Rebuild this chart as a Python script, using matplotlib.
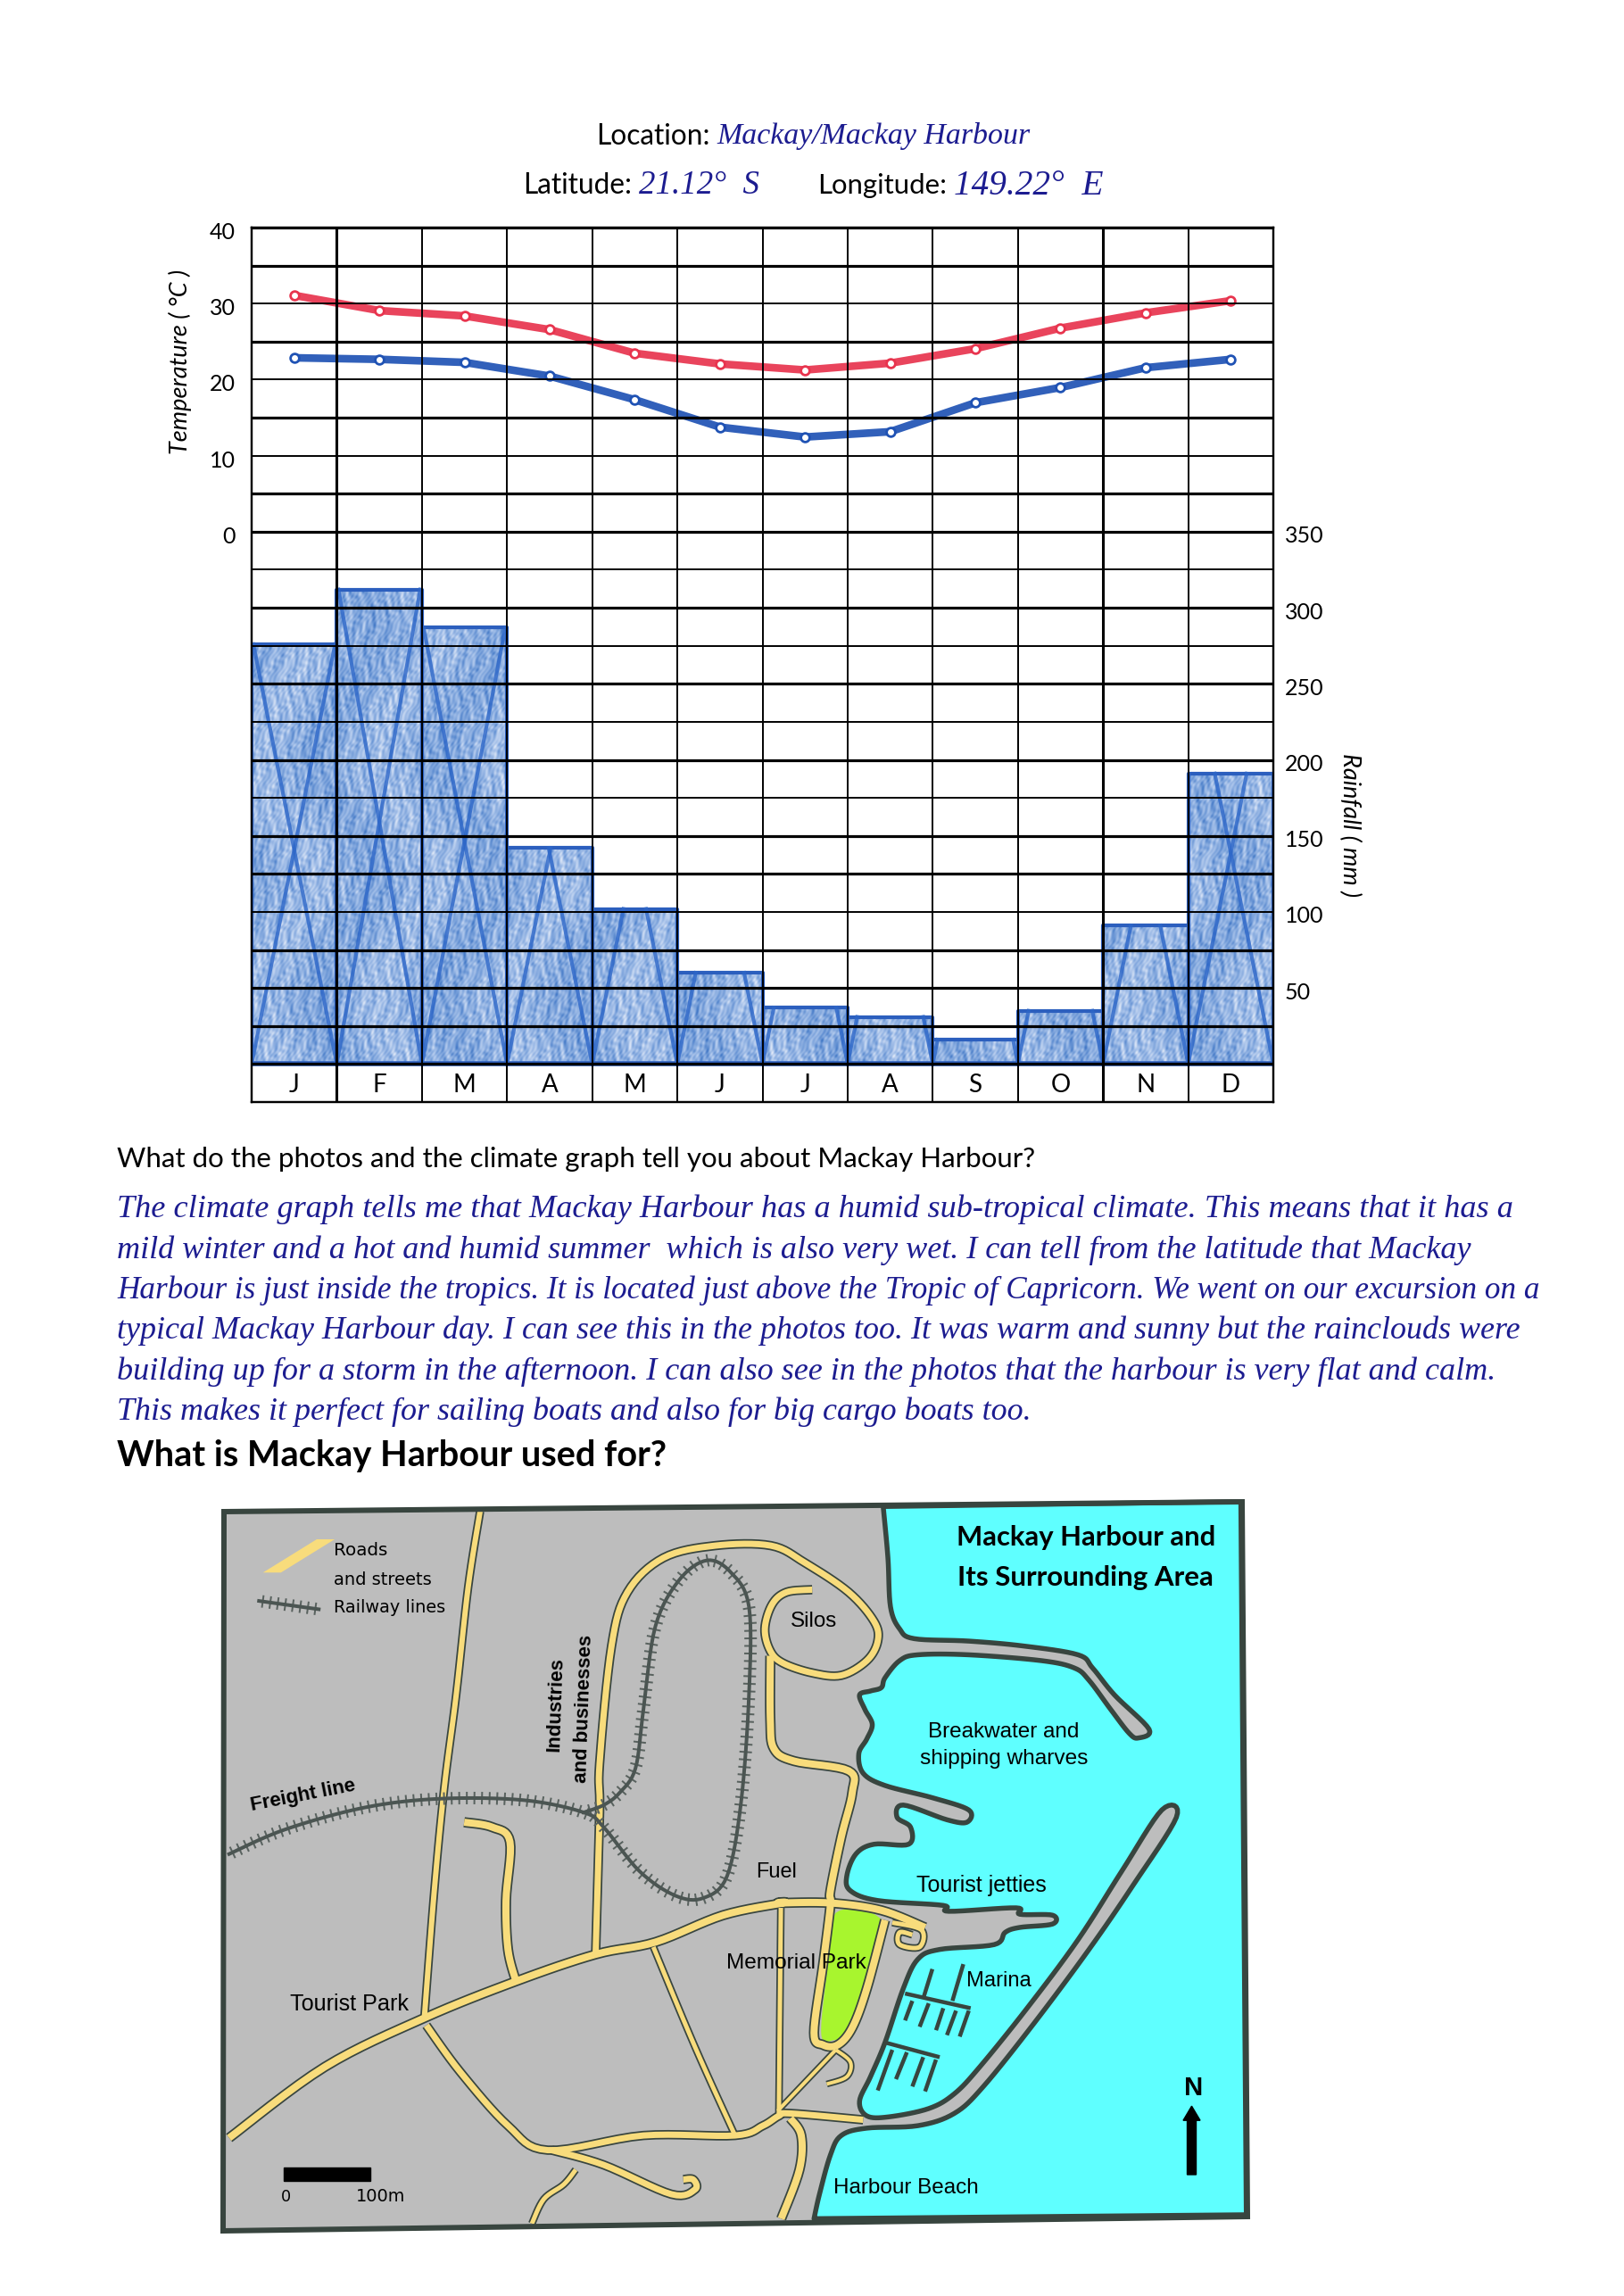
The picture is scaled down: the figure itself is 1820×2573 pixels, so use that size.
import numpy as np
import matplotlib
matplotlib.use("Agg")
import matplotlib.pyplot as plt
from matplotlib.collections import LineCollection
from matplotlib.colors import LinearSegmentedColormap
from matplotlib.patches import Polygon, FancyArrow
from matplotlib.path import Path
from matplotlib.transforms import ScaledTranslation

W, H = 1820, 2573

# climate data
months = ["J", "F", "M", "A", "M", "J", "J", "A", "S", "O", "N", "D"]
temp_max = [31.1, 29.1, 28.4, 26.6, 23.5, 22.1, 21.3, 22.2, 24.1, 26.8, 28.8, 30.4]
temp_min = [22.9, 22.7, 22.3, 20.5, 17.4, 13.8, 12.5, 13.2, 17.0, 19.0, 21.6, 22.7]
rainfall = [276, 312, 287, 142, 102, 60, 37, 31, 16, 35, 91, 191]
temp_ticks = [0, 10, 20, 30, 40]
rain_ticks = [50, 100, 150, 200, 250, 300, 350]

answer_lines = [
    "The climate graph tells me that Mackay Harbour has a humid sub-tropical climate. This means that it has a",
    "mild winter and a hot and humid summer  which is also very wet. I can tell from the latitude that Mackay",
    "Harbour is just inside the tropics. It is located just above the Tropic of Capricorn. We went on our excursion on a",
    "typical Mackay Harbour day. I can see this in the photos too. It was warm and sunny but the rainclouds were",
    "building up for a storm in the afternoon. I can also see in the photos that the harbour is very flat and calm.",
    "This makes it perfect for sailing boats and also for big cargo boats too.",
]
answer_y = [1355, 1401, 1446, 1491, 1537, 1582]
answer_end = [1693, 1650, 1726, 1699, 1677, 1153]

INK = "#1c1c90"
EDGE = "#38453f"
ROAD = "#f8dc7c"
HAND = ["Liberation Serif"]
BODY = ["Lato", "DejaVu Sans"]
ARIAL = ["Liberation Sans"]

fig = plt.figure(figsize=(W / 100, H / 100), dpi=100, facecolor="white")

# page overlay in pixels, used for the text and the map
page = fig.add_axes([0, 0, 1, 1], zorder=5)
page.set_xlim(0, W)
page.set_ylim(H, 0)
page.axis("off")
renderer = fig.canvas.get_renderer()


def fit_text(s, x0, x1, y, **kw):
    """Text whose size is scaled so it runs from x0 to x1"""
    kw.setdefault("family", BODY)
    t = page.text(x0, y, s, ha="left", va="center", fontsize=20, **kw)
    for _ in range(3):
        w = t.get_window_extent(renderer).width
        t.set_fontsize(t.get_fontsize() * (x1 - x0) / w)
    return t


# ---- climate graph ----
left, right, top, bottom = 282, 1427, 255, 1235
ax_temp = fig.add_axes([left / W, 1 - bottom / H, (right - left) / W, (bottom - top) / H], zorder=2)
ax_rain = ax_temp.twinx()
ax_rain.set_zorder(3)
ax_rain.patch.set_visible(False)
centres = np.arange(12) + 0.5

ax_temp.plot(centres, temp_max, color="#e8344e", lw=6.2, solid_capstyle="round", alpha=0.92)
ax_temp.plot(centres, temp_max, ls="none", marker="o", ms=7, mfc="white", mec="#e8344e", mew=2)
ax_temp.plot(centres, temp_min, color="#1f52b4", lw=6.2, solid_capstyle="round", alpha=0.92)
ax_temp.plot(centres, temp_min, ls="none", marker="o", ms=7, mfc="white", mec="#1f52b4", mew=2)

# columns, with a pencil mottling clipped to their outline
ax_rain.bar(centres, rainfall, width=1.0, color="#8fb0e0", lw=0, zorder=1)
gx, gy = np.meshgrid(np.arange(right - left), np.arange(560))
mottle = (np.sin(gx * 0.83 + 2.4 * np.sin(gy * 0.061)) * 0.5
          + np.sin(gx * 0.37 + 2.0 * np.sin(gy * 0.09 + gx * 0.03)) * 0.6
          + np.sin(gx * 0.53 + gy * 0.41 + 2.0 * np.sin(gx * 0.19 - gy * 0.23)) * 0.45
          + np.sin(gx * 1.31 - gy * 0.67 + 1.5 * np.sin(gy * 0.31)) * 0.4
          + np.sin(gx * 0.045 + 1.5 * np.sin(gy * 0.023)) * 0.5)
pencil = LinearSegmentedColormap.from_list("pencil", ["#4278c6", "#78a0da", "#a9c3ea", "#dfe8f7"])
img = ax_rain.imshow(mottle, extent=(0, 12, 0, 330), origin="lower", aspect="auto", cmap=pencil, zorder=1.2,
                     interpolation="bilinear")
stair_x = np.r_[0, np.repeat(np.arange(1, 12), 2), 12]
stair_y = np.repeat(rainfall, 2)
outline = np.c_[np.r_[0, stair_x, 12], np.r_[0, stair_y, 0]]
img.set_clip_path(Path(outline), transform=ax_rain.transData)

for i, h in enumerate(rainfall):
    # outline and the crossing pencil strokes of each column
    inset = min(h * 0.0036, 0.98)
    ax_rain.plot([i, i, i + 1, i + 1], [0, h, h, 0], color="#2c5fbe", lw=3, zorder=2)
    ax_rain.plot([i, i + inset], [0, h], color="#2c66c8", lw=3, alpha=0.8, zorder=2)
    ax_rain.plot([i + 1 - inset, i + 1], [h, 0], color="#2c66c8", lw=3, alpha=0.8, zorder=2)
ax_rain.plot([0, 12], [0, 0], color="#2c5fbe", lw=4, zorder=2)

ax_temp.set_xlim(0, 12)
ax_temp.set_ylim(-74.8, 40)
ax_rain.set_ylim(-25, 550)

thick = [0, 25, 50, 75, 125, 150, 200, 250, 300, 350, 375, 425, 475, 525, 550]
for v in np.arange(0, 551, 25):
    ax_rain.axhline(v, color="black", lw=2.3 if v in thick else 1.4, zorder=4)
for c in range(13):
    ax_rain.axvline(c, color="black", lw=2.2 if c in (1, 10) else 1.4, zorder=4)

for a in (ax_temp, ax_rain):
    for s in a.spines.values():
        s.set_linewidth(1.6)
ax_temp.set_xticks(centres, months, family=BODY, fontsize=20)
ax_temp.tick_params(axis="x", length=0, pad=-23)
ax_temp.set_yticks(temp_ticks)
ax_temp.tick_params(axis="y", length=0, pad=13, labelsize=18)
ax_rain.set_yticks(rain_ticks)
ax_rain.tick_params(axis="y", length=0, pad=9, labelsize=18)
for lab in ax_temp.get_yticklabels() + ax_rain.get_yticklabels():
    lab.set_family(BODY)
    lab.set_transform(lab.get_transform() + ScaledTranslation(0, -3 / 100, fig.dpi_scale_trans))

page.text(202, 405, "Temperature ( \u00b0C )", rotation=90, ha="center", va="center",
          style="italic", fontsize=19.5, family=BODY)
page.text(1513, 925, "Rainfall ( mm )", rotation=270, ha="center", va="center",
          style="italic", fontsize=19.5, family=BODY)

fit_text("Location:", 668, 795, 153)
fit_text("Mackay/Mackay Harbour", 803, 1153, 153, color=INK, family=HAND, style="italic")
fit_text("Latitude:", 586, 708, 208)
fit_text("21.12\u00b0  S", 716, 851, 208, color=INK, family=HAND, style="italic")
fit_text("Longitude:", 916, 1061, 208)
fit_text("149.22\u00b0  E", 1069, 1236, 208, color=INK, family=HAND, style="italic")

# ---- written answer ----
fit_text("What do the photos and the climate graph tell you about Mackay Harbour?", 131, 1159, 1299)
for line, y, end in zip(answer_lines, answer_y, answer_end):
    fit_text(line, 131, end, y, color=INK, family=HAND, style="italic")
fit_text("What is Mackay Harbour used for?", 131, 747, 1632, fontweight="bold")


# ---- map ----
def L(*pts):
    """Points measured on the west half of the map"""
    a = np.array(pts, dtype=float)
    return np.c_[230 + a[:, 0] / 2.24, 1680 + a[:, 1] / 1.823]


def R(*pts):
    """Points measured on the east half of the map"""
    a = np.array(pts, dtype=float)
    return np.c_[800 + a[:, 0] / 2.45, 1680 + a[:, 1] / 1.823]


def smooth(p, n=8, closed=False):
    """Catmull-Rom curve through the traced points"""
    if closed:
        e = np.vstack([p[-1], p, p[0], p[1]])
    else:
        e = np.vstack([p[0], p, p[-1]])
    out = []
    for a, b, c, d in zip(e[:-3], e[1:-2], e[2:-1], e[3:]):
        for t in np.linspace(0, 1, n, endpoint=False):
            out.append(0.5 * (2 * b + (c - a) * t + (2 * a - 5 * b + 4 * c - d) * t ** 2
                              + (3 * b - a - 3 * c + d) * t ** 3))
    out.append(e[-2])
    return np.array(out)


frame = np.array([[251, 1694], [1392, 1683], [1398, 2484], [250, 2500]], dtype=float)
water_coast = R(
    (465, 15), (478, 120), (485, 220), (510, 265), (550, 285), (700, 290), (850, 300), (1000, 318),
    (1040, 345), (1100, 400), (1195, 470), (1165, 488), (1140, 478), (1090, 430), (1030, 370),
    (990, 345), (900, 330), (700, 318), (560, 318), (510, 330), (470, 365), (460, 385), (430, 392),
    (400, 400), (415, 430), (435, 460), (420, 490), (398, 520), (410, 560), (470, 585), (600, 610),
    (700, 635), (695, 660), (640, 655), (520, 625), (503, 650), (540, 670), (535, 705), (440, 705),
    (390, 725), (365, 770), (375, 800), (450, 820), (630, 830), (645, 842), (830, 835), (840, 848),
    (930, 850), (930, 868), (840, 875), (800, 885), (770, 910), (620, 920), (560, 940), (520, 1000),
    (470, 1110), (430, 1180), (400, 1230), (420, 1260), (480, 1262), (590, 1245), (660, 1215),
    (730, 1160), (860, 1040), (1000, 900), (1120, 760), (1230, 635), (1270, 650), (1150, 790),
    (1030, 920), (880, 1070), (740, 1200), (660, 1255), (560, 1280), (420, 1285), (350, 1300),
    (320, 1340), (290, 1420), (275, 1470))
water_sea = np.vstack([smooth(water_coast), R((1462, 1462), (1447, 5))])
park = R((335, 845), (465, 865), (420, 1000), (360, 1090), (330, 1105), (295, 1095), (310, 970))

roads = [
    (L((690, 25), (660, 180), (630, 400), (600, 590), (575, 800), (550, 1060)), 6),
    (np.vstack([L((60, 1305), (300, 1160), (550, 1060), (780, 985), (980, 930), (1130, 905), (1300, 850), (1450, 825)),
                R((180, 825), (320, 825), (460, 840), (580, 875))]), 8),
    (np.vstack([L((555, 1075), (640, 1170), (760, 1280), (860, 1330), (1100, 1300), (1330, 1300), (1400, 1280), (1440, 1260)),
                R((210, 1255), (410, 1268))]), 7),
    (L((870, 1330), (1000, 1360), (1170, 1420), (1230, 1410), (1225, 1390), (1200, 1390)), 7),
    (L((930, 1370), (900, 1400), (850, 1430), (820, 1480)), 5),
    (L((1125, 915), (1230, 1120), (1330, 1300)), 5),
    (L((1445, 835), (1440, 1260)), 5),
    (R((175, 1250), (335, 1125)), 4),
    (R((210, 1265), (240, 1300), (235, 1370), (185, 1470)), 8),
    (L((650, 660), (720, 670), (765, 700), (755, 820), (760, 920), (780, 985)), 8),
    (np.vstack([L((980, 930), (990, 640), (990, 540), (1020, 300), (1060, 190), (1150, 120), (1280, 95), (1420, 95)),
                R((250, 130), (370, 190), (440, 250), (450, 290), (420, 330), (350, 360), (270, 355),
                  (190, 335), (155, 310), (140, 265), (160, 215), (200, 190), (270, 185))]), 7),
    (R((155, 320), (155, 450), (165, 510), (220, 535), (370, 555), (380, 600), (350, 690), (320, 800),
       (320, 830), (300, 950), (275, 1090), (300, 1115), (340, 1115), (380, 1080), (420, 1000), (470, 860)), 8),
    (R((490, 865), (570, 880), (565, 915), (510, 910), (510, 885), (545, 890)), 5),
    (R((335, 1125), (375, 1150), (365, 1180), (310, 1195)), 4),
]
railway = L((60, 725), (200, 675), (400, 630), (590, 612), (800, 615), (950, 640), (1000, 670), (1090, 760),
            (1180, 810), (1250, 815), (1310, 770), (1345, 620), (1365, 400), (1365, 220), (1320, 150),
            (1260, 125), (1190, 165), (1130, 260), (1100, 430), (1080, 550), (1040, 600), (1000, 625), (950, 640))
legend_rail = L((135, 208), (285, 225))
legend_road = L((145, 150), (190, 150), (325, 82), (280, 82))
jetties = [
    R((525, 1010), (705, 1040)), R((600, 960), (575, 1020)), R((685, 950), (655, 1025)),
    R((545, 1025), (525, 1065)), R((590, 1030), (565, 1078)), R((630, 1040), (610, 1085)),
    R((665, 1045), (640, 1095)), R((700, 1045), (675, 1098)),
    R((470, 1110), (620, 1140)), R((490, 1125), (450, 1208)), R((530, 1130), (500, 1185)),
    R((575, 1140), (545, 1200)), R((610, 1145), (580, 1210)),
]


def px(v):
    return v * 72 / 100


def draw_rail(p, spacing=8.5, tie=14):
    seg = np.hypot(*np.diff(p, axis=0).T)
    s = np.r_[0, np.cumsum(seg)]
    at = np.arange(spacing / 2, s[-1], spacing)
    x, y = np.interp(at, s, p[:, 0]), np.interp(at, s, p[:, 1])
    dx, dy = np.interp(at, s[:-1], np.diff(p[:, 0]) / seg), np.interp(at, s[:-1], np.diff(p[:, 1]) / seg)
    ties = [[(a - tie / 2 * v, b + tie / 2 * u), (a + tie / 2 * v, b - tie / 2 * u)] for a, b, u, v in zip(x, y, dx, dy)]
    page.add_collection(LineCollection(ties, colors="#59625f", linewidths=px(2), zorder=6))
    page.plot(p[:, 0], p[:, 1], color="#4b5552", lw=px(4), zorder=6)


page.add_patch(Polygon(frame, closed=True, fc="#bdbdbd", ec="none", zorder=1))
page.add_patch(Polygon(water_sea, closed=True, fc="#5fffff", ec=EDGE, lw=px(5.5), joinstyle="round", zorder=2))
page.add_patch(Polygon(smooth(park, closed=True), closed=True, fc="#a8f52e", ec="none", zorder=3))
page.add_patch(Polygon(frame, closed=True, fc="none", ec=EDGE, lw=px(6), joinstyle="miter", zorder=9))
for p, width in roads:
    q = smooth(p)
    page.plot(q[:, 0], q[:, 1], color=EDGE, lw=px(width + 3.5), solid_capstyle="butt", solid_joinstyle="round", zorder=4)
for p, width in roads:
    q = smooth(p)
    page.plot(q[:, 0], q[:, 1], color=ROAD, lw=px(width), solid_capstyle="butt", solid_joinstyle="round", zorder=5)
for j in jetties:
    page.plot(j[:, 0], j[:, 1], color=EDGE, lw=px(4.5), solid_capstyle="butt", zorder=4)
draw_rail(smooth(railway))
draw_rail(legend_rail)
page.add_patch(Polygon(legend_road, closed=True, fc=ROAD, ec="none", zorder=6))

# scale bar and north arrow
bar = L((197, 1365), (414, 1393))
page.fill([bar[0, 0], bar[1, 0], bar[1, 0], bar[0, 0]], [bar[0, 1], bar[0, 1], bar[1, 1], bar[1, 1]], color="black", zorder=7)
arrow = R((1312, 1380), (1312, 1240))
page.add_patch(FancyArrow(arrow[0, 0], arrow[0, 1], 0, arrow[1, 1] - arrow[0, 1], width=10, head_width=19,
                          head_length=16, length_includes_head=True, color="black", zorder=7))

map_labels = [
    (L((322, 105)), L((456, 105)), "Roads", "DejaVu Sans", "normal"),
    (L((322, 165)), L((568, 165)), "and streets", "DejaVu Sans", "normal"),
    (L((322, 222)), L((605, 222)), "Railway lines", "DejaVu Sans", "normal"),
    (L((213, 1032)), L((510, 1032)), "Tourist Park", ARIAL, "normal"),
    (L((1382, 762)), L((1485, 762)), "Fuel", ARIAL, "normal"),
    (R((35, 948)), R((420, 948)), "Memorial Park", ARIAL, "normal"),
    (R((210, 250)), R((338, 250)), "Silos", ARIAL, "normal"),
    (R((587, 476)), R((1002, 476)), "Breakwater and", ARIAL, "normal"),
    (R((565, 530)), R((1025, 530)), "shipping wharves", ARIAL, "normal"),
    (R((555, 790)), R((912, 790)), "Tourist jetties", ARIAL, "normal"),
    (R((693, 985)), R((872, 985)), "Marina", ARIAL, "normal"),
    (R((328, 1408)), R((727, 1408)), "Harbour Beach", ARIAL, "normal"),
    (L((190, 1425)), L((215, 1425)), "0", "DejaVu Sans", "normal"),
    (L((378, 1425)), L((502, 1425)), "100m", "DejaVu Sans", "normal"),
    (R((667, 78)), R((1380, 78)), "Mackay Harbour and", BODY, "bold"),
    (R((670, 160)), R((1372, 160)), "Its Surrounding Area", BODY, "bold"),
    (R((1290, 1203)), R((1342, 1203)), "N", ARIAL, "bold"),
]
for a, b, s, fam, weight in map_labels:
    fit_text(s, a[0, 0], b[0, 0], a[0, 1], family=fam, fontweight=weight, zorder=8)

c = L((245, 605))
page.text(c[0, 0], c[0, 1], "Freight line", rotation=11, ha="center", va="center", family=ARIAL,
          fontweight="bold", fontsize=16, zorder=8)
c = L((880, 420))
page.text(c[0, 0], c[0, 1], "Industries", rotation=88, ha="center", va="center", family=ARIAL,
          fontweight="bold", fontsize=16, zorder=8)
c = L((950, 428))
page.text(c[0, 0], c[0, 1], "and businesses", rotation=88, ha="center", va="center", family=ARIAL,
          fontweight="bold", fontsize=16, zorder=8)

fig.savefig("out.png", dpi=100, facecolor="white")
